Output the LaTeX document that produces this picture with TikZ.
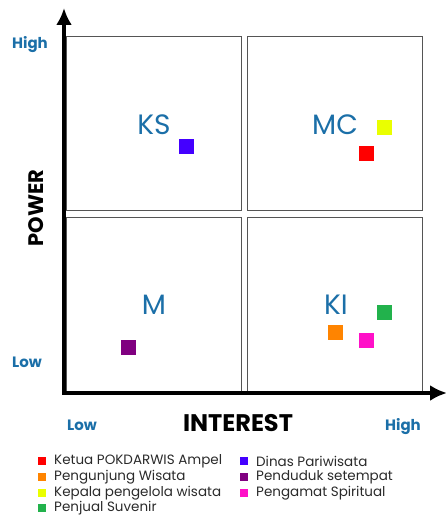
\documentclass[tikz,border=0pt]{standalone}
\usepackage{fontspec}
\setmainfont{Poppins}
\usetikzlibrary{arrows.meta}

\definecolor{axisblue}{HTML}{1B6FA8}
\definecolor{boxgray}{HTML}{555555}
\definecolor{legtext}{HTML}{2A2A2A}
\definecolor{cred}{HTML}{FF0000}
\definecolor{corange}{HTML}{FF8400}
\definecolor{cyellow}{HTML}{EAFF00}
\definecolor{cgreen}{HTML}{22B24C}
\definecolor{cblue}{HTML}{4400FF}
\definecolor{cpurple}{HTML}{800080}
\definecolor{cmagenta}{HTML}{FF10C8}

\tikzset{
    quad/.style = {draw = boxgray, line width = 1pt, minimum width = 175pt, minimum height = 174pt, inner sep = 0pt},
    qlabel/.style = {text = axisblue, font = \fontsize{28}{30}\selectfont},
    dot/.style = {fill = #1, minimum size = 15pt, inner sep = 0pt},
    legsq/.style = {fill = #1, minimum size = 8pt, inner sep = 0pt},
    legtxt/.style = {anchor = west, text = legtext, font = \fontsize{13.5}{14}\selectfont, inner sep = 0pt},
    lvl/.style = {text = axisblue, font = \bfseries\fontsize{15}{16}\selectfont},
    axis/.style = {line width = 4pt, -{Latex[length = 17pt, width = 16pt]}}
}

\begin{document}
\begin{tikzpicture}[x = 1pt, y = -1pt]
    \useasboundingbox (0, 0) rectangle (445, 516);

    % quadrants
    \node (ks) at (154, 123.5) [quad] {};
    \node (mc) at (335, 123.5) [quad] {};
    \node (m) at (154, 304.5) [quad] {};
    \node (ki) at (335, 304.5) [quad] {};

    % axes
    \coordinate (o) at (64, 393);
    \coordinate (ytip) at (64, 8);
    \coordinate (xtip) at (447, 393);
    \draw[axis] ([yshift = 2pt] o) -- (ytip);
    \draw[axis] ([xshift = -2pt] o) -- (xtip);

    \node (ksl) at (154, 125) [qlabel] {KS};
    \node (mcl) at (335, 125) [qlabel] {MC};
    \node (ml) at (154, 305) [qlabel] {M};
    \node (kil) at (336, 305) [qlabel] {KI};

    \node (s1) at (366, 153) [dot = cred] {};
    \node (s2) at (335, 332) [dot = corange] {};
    \node (s3) at (384, 127) [dot = cyellow] {};
    \node (s4) at (384, 312) [dot = cgreen] {};
    \node (s5) at (186, 146) [dot = cblue] {};
    \node (s6) at (128, 347) [dot = cpurple] {};
    \node (s7) at (366, 340) [dot = cmagenta] {};

    % axis labels
    \node (yhigh) at (30, 45) [lvl] {High};
    \node (ylow) at (27, 362) [lvl] {Low};
    \node (xlow) at (82, 425) [lvl] {Low};
    \node (xhigh) at (403, 427) [lvl] {High};
    \node (power) at (36, 208) [rotate = 90, font = \bfseries\fontsize{21}{22}\selectfont] {POWER};
    \node (interest) at (238, 423) [font = \bfseries\fontsize{24}{26}\selectfont] {INTEREST};

    % legend
    \node (l1) at (42, 461) [legsq = cred] {};
    \node (l2) at (42, 477) [legsq = corange] {};
    \node (l3) at (42, 493) [legsq = cyellow] {};
    \node (l4) at (42, 508) [legsq = cgreen] {};
    \node (l5) at (244, 461) [legsq = cblue] {};
    \node (l6) at (244, 477) [legsq = cpurple] {};
    \node (l7) at (244, 493) [legsq = cmagenta] {};
    \node (t1) at (54, 461) [legtxt] {Ketua POKDARWIS Ampel};
    \node (t2) at (54, 477) [legtxt] {Pengunjung Wisata};
    \node (t3) at (54, 493) [legtxt] {Kepala pengelola wisata};
    \node (t4) at (54, 508) [legtxt] {Penjual Suvenir};
    \node (t5) at (256, 461) [legtxt] {Dinas Pariwisata};
    \node (t6) at (256, 477) [legtxt] {Penduduk setempat};
    \node (t7) at (256, 493) [legtxt] {Pengamat Spiritual};
\end{tikzpicture}
\end{document}
